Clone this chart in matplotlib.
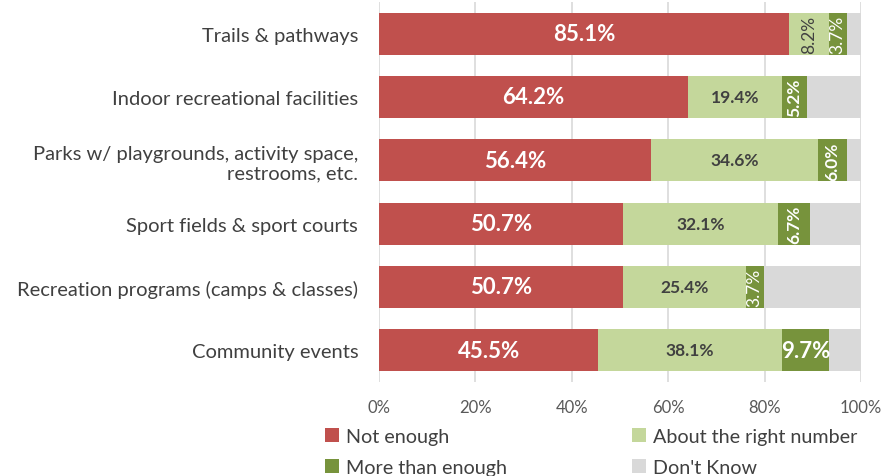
import numpy as np
import matplotlib
matplotlib.use("Agg")
import matplotlib.pyplot as plt

plt.rcParams['font.family'] = ['Lato', 'DejaVu Sans']

categories = ["Trails & pathways", "Indoor recreational facilities",
              "Parks w/ playgrounds, activity space,\nrestrooms, etc.",
              "Sport fields & sport courts",
              "Recreation programs (camps & classes)", "Community events"]
not_enough = [85.1, 64.2, 56.4, 50.7, 50.7, 45.5]
about_right = [8.2, 19.4, 34.6, 32.1, 25.4, 38.1]
more_than = [3.7, 5.2, 6.0, 6.7, 3.7, 9.7]
dont_know = [3.0, 11.2, 3.0, 10.5, 20.2, 6.7]
series_names = ["Not enough", "About the right number", "More than enough", "Don't Know"]
colors = ["#C0504D", "#C4D79B", "#77933C", "#D9D9D9"]

fig = plt.figure(figsize=(8.95, 4.77), dpi=100)
ax = fig.add_axes([379/895, 1 - 383/477, (861 - 379)/895, 380/477])

y = np.arange(len(categories))
series = [not_enough, about_right, more_than, dont_know]
left = np.zeros(len(categories))
bars = []
for vals, name, c in zip(series, series_names, colors):
    b = ax.barh(y, vals, left=left, height=0.66, color=c, label=name, zorder=3)
    bars.append(b)
    # labels for the first three series
    if name != "Don't Know":
        for i, v in enumerate(vals):
            cx = left[i] + v / 2
            if name == "Not enough":
                ax.text(cx, y[i], f"{v:.1f}%", ha='center', va='center',
                        color='white', fontsize=16, fontweight='bold', zorder=4)
            elif name == "About the right number":
                if v < 10:
                    ax.text(cx, y[i], f"{v:.1f}%", ha='center', va='center',
                            color='#404040', fontsize=12.5, rotation=90, zorder=4)
                else:
                    ax.text(cx, y[i], f"{v:.1f}%", ha='center', va='center',
                            color='#404040', fontsize=12.5, fontweight='bold', zorder=4)
            else:
                if v < 9:
                    w = 'normal' if v < 4 else 'bold'
                    ax.text(cx, y[i], f"{v:.1f}%", ha='center', va='center',
                            color='white', fontsize=12.5, rotation=90, fontweight=w, zorder=4)
                else:
                    ax.text(cx, y[i], f"{v:.1f}%", ha='center', va='center',
                            color='white', fontsize=16, fontweight='bold', zorder=4)
    left = left + np.array(vals)

ax.set_xlim(0, 100)
ax.set_ylim(len(categories) - 0.5, -0.5)
ax.set_yticks(y)
ax.set_yticklabels(categories, fontsize=14.5, color='#404040')
ax.set_xticks(np.arange(0, 101, 20))
ax.set_xticklabels([f"{t}%" for t in range(0, 101, 20)], fontsize=12, color='#595959')
ax.tick_params(axis='both', length=0)
ax.tick_params(axis='y', pad=15)
ax.tick_params(axis='x', pad=12)
ax.grid(axis='x', color='#D9D9D9', linewidth=1.2, zorder=0)
for s in ax.spines.values():
    s.set_visible(False)

# row-wise legend order like the original
order = [0, 2, 1, 3]
fig.legend(handles=[bars[k] for k in order], labels=[series_names[k] for k in order],
           ncol=2, loc='upper left', bbox_to_anchor=(325/895, 1 - 429/477),
           frameon=False, fontsize=14.2, handlelength=0.7, handleheight=0.7,
           handletextpad=0.35, columnspacing=6.35, labelspacing=0.72,
           labelcolor='#404040', borderaxespad=0, borderpad=0)

fig.savefig("out.png", dpi=100)
